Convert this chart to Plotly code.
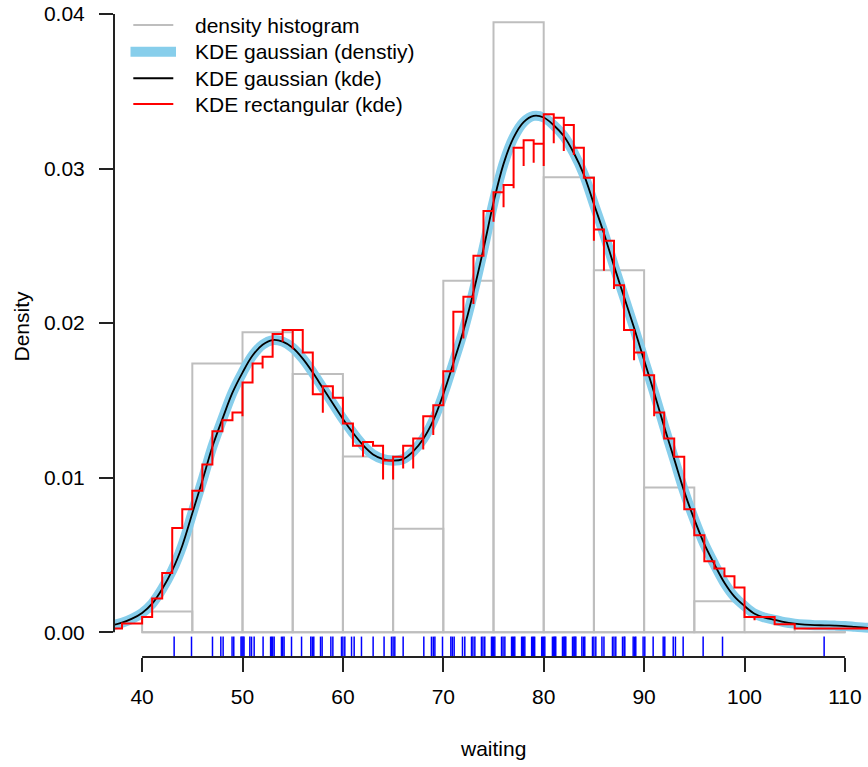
import plotly.graph_objects as go

# ---------------- data ----------------
hist_breaks = [40, 45, 50, 55, 60, 65, 70, 75, 80, 85, 90, 95, 100, 105, 110]
hist_density = [0.00134, 0.01739, 0.01940, 0.01670, 0.01137, 0.00669, 0.02274,
                0.03946, 0.02943, 0.02341, 0.00936, 0.00201, 0.0, 0.00067]

gauss_x = list(range(36, 114))
gauss_y = [0.00032, 0.00045, 0.00062, 0.00088, 0.00125, 0.00185, 0.00280, 0.00400,
           0.00560, 0.00770, 0.00980, 0.01200, 0.01380, 0.01550, 0.01680, 0.01790,
           0.01860, 0.01890, 0.01880, 0.01840, 0.01770, 0.01680, 0.01580, 0.01480,
           0.01380, 0.01290, 0.01210, 0.01150, 0.01120, 0.01110, 0.01120, 0.01170,
           0.01250, 0.01370, 0.01540, 0.01740, 0.01950, 0.02200, 0.02480, 0.02780,
           0.03030, 0.03200, 0.03300, 0.03340, 0.03330, 0.03280, 0.03210, 0.03100,
           0.02960, 0.02770, 0.02580, 0.02370, 0.02170, 0.01970, 0.01760, 0.01550,
           0.01330, 0.01120, 0.00910, 0.00730, 0.00570, 0.00440, 0.00320, 0.00230,
           0.00170, 0.00120, 0.00095, 0.00080, 0.00065, 0.00056, 0.00050, 0.00046,
           0.00045, 0.00043, 0.00040, 0.00035, 0.00030, 0.00027]

rect_x = [37.2] + list(range(38, 114))
rect_y = [0.00024, 0.00056, 0.00056, 0.00099, 0.00218, 0.00384, 0.00675, 0.00796,
          0.00915, 0.01085, 0.01301, 0.01372, 0.01422, 0.01616, 0.01739, 0.01782,
          0.01929, 0.01955, 0.01955, 0.01810, 0.01540, 0.01592, 0.01517, 0.01350,
          0.01206, 0.01230, 0.01206, 0.01111, 0.01135, 0.01206, 0.01254, 0.01398,
          0.01469, 0.01689, 0.02073, 0.02170, 0.02436, 0.02725, 0.02846, 0.02893,
          0.03135, 0.03182, 0.03160, 0.03351, 0.03329, 0.03281, 0.03135, 0.02940,
          0.02606, 0.02533, 0.02244, 0.01955, 0.01810, 0.01663, 0.01422, 0.01254,
          0.01135, 0.00796, 0.00628, 0.00460, 0.00412, 0.00362, 0.00289, 0.00099,
          0.00099, 0.00099, 0.00052, 0.00052, 0.00024, 0.00024, 0.00024, 0.00024,
          0.00024, 0.00024, 0.00024, 0.00024, 0.00024]

# downward spikes of the rectangular kde at some step edges
dip_x = [50, 52, 54, 55, 58, 62, 64, 65, 66, 67, 68, 69, 72, 73, 75, 76, 77, 78,
         79, 80, 81, 82, 83, 85, 86, 87, 89, 91, 101]
dip_y = [0.01398, 0.01707, 0.01879, 0.01830, 0.01420, 0.01135, 0.00988, 0.00988,
         0.01060, 0.01060, 0.01183, 0.01276, 0.01900, 0.02123, 0.02656, 0.02749,
         0.02872, 0.03016, 0.03038, 0.03016, 0.03163, 0.03113, 0.03087, 0.02533,
         0.02339, 0.02220, 0.01760, 0.01398, 0.00078]

rug_x = [43.19, 44.92, 47.01, 47.84, 48.07, 48.96, 49.13, 49.85, 49.95, 50.05, 50.15,
         50.73, 50.9, 51.16, 52.05, 52.8, 52.9, 53.0, 53.15, 53.88, 54.0, 54.14,
         54.88, 55.88, 56.8, 56.95, 57.1, 57.77, 57.93, 58.8, 59.0, 59.86, 60.0,
         60.19, 60.86, 61.12, 61.85, 63.01, 64.1, 64.84, 65.0, 65.17, 66.0, 68.06,
         68.82, 69.0, 69.16, 69.92, 70.75, 70.9, 71.08, 71.91, 72.14, 72.81, 72.95,
         73.14, 73.8, 73.95, 74.13, 74.8, 74.9, 75.0, 75.13, 75.8, 75.95, 76.13,
         76.8, 76.9, 77.0, 77.12, 77.8, 77.9, 78.0, 78.12, 78.8, 78.9, 79.0, 79.1,
         79.8, 79.9, 80.0, 80.11, 80.87, 81.0, 81.1, 81.2, 81.87, 82.0, 82.1, 82.2,
         82.87, 83.0, 83.1, 83.2, 83.8, 83.95, 84.09, 84.86, 85.0, 85.19, 85.8,
         86.0, 86.85, 87.0, 87.18, 87.85, 88.0, 88.08, 88.91, 89.05, 89.17, 89.9,
         90.07, 90.9, 91.9, 92.06, 92.9, 93.12, 93.89, 95.88, 97.81, 107.93]

x_ticks = [40, 50, 60, 70, 80, 90, 100, 110]
y_ticks = [0.00, 0.01, 0.02, 0.03, 0.04]

legend_labels = ["density histogram", "KDE gaussian (denstiy)",
                 "KDE gaussian (kde)", "KDE rectangular (kde)"]

# ---------------- styling / layout constants ----------------
W, H = 868, 767
ML, MR, MT, MB = 114, 0, 0, 110
PW, PH = W - ML - MR, H - MT - MB
X_RANGE = [37.2, 112.3]
Y_RANGE = [-0.0016, 0.0409]
FONT = "Liberation Sans, Arial, Helvetica, sans-serif"
GRAY = "#BEBEBE"
SKY = "#87CEEB"
AXC = "#222222"
RUG_TOP = -0.00028


def pxx(px):
    return (px - ML) / PW


def pxy(py):
    return (MT + PH - py) / PH


fig = go.Figure()

# histogram (outlined, no fill)
centers = [(a + b) / 2 for a, b in zip(hist_breaks[:-1], hist_breaks[1:])]
widths = [b - a for a, b in zip(hist_breaks[:-1], hist_breaks[1:])]
fig.add_trace(go.Bar(x=centers, y=hist_density, width=widths,
                     marker=dict(color="rgba(0,0,0,0)", line=dict(color=GRAY, width=2)),
                     showlegend=False, hoverinfo="skip"))

# gaussian kde (density) thick sky blue
fig.add_trace(go.Scatter(x=gauss_x, y=gauss_y, mode="lines",
                         line=dict(color=SKY, width=10, shape="spline", smoothing=1.0),
                         showlegend=False, hoverinfo="skip"))
# gaussian kde (kde) thin black
fig.add_trace(go.Scatter(x=gauss_x, y=gauss_y, mode="lines",
                         line=dict(color="black", width=1.8, shape="spline", smoothing=1.0),
                         showlegend=False, hoverinfo="skip"))

# rectangular kde as a step line with spikes
rx, ry = [], []
dips = dict(zip(dip_x, dip_y))
for xv, yv in zip(rect_x, rect_y):
    if xv in dips:
        rx.append(xv)
        ry.append(dips[xv])
    rx.append(xv)
    ry.append(yv)
fig.add_trace(go.Scatter(x=rx, y=ry, mode="lines",
                         line=dict(color="red", width=2, shape="hv"),
                         showlegend=False, hoverinfo="skip"))

# rug
ux, uy = [], []
for v in rug_x:
    ux += [v, v, None]
    uy += [Y_RANGE[0], RUG_TOP, None]
fig.add_trace(go.Scatter(x=ux, y=uy, mode="lines",
                         line=dict(color="blue", width=1.5),
                         showlegend=False, hoverinfo="skip", cliponaxis=False))

shapes = []
# histogram baseline (covers zero-height bins)
shapes.append(dict(type="line", xref="x", yref="y", x0=hist_breaks[0], x1=hist_breaks[-1],
                   y0=0, y1=0, line=dict(color=GRAY, width=2), layer="below"))
# R-style axis lines spanning only the tick range
shapes.append(dict(type="line", xref="paper", yref="y", x0=0, x1=0,
                   y0=y_ticks[0], y1=y_ticks[-1], line=dict(color=AXC, width=2)))
shapes.append(dict(type="line", xref="x", yref="paper", x0=x_ticks[0], x1=x_ticks[-1],
                   y0=0, y1=0, line=dict(color=AXC, width=2)))

# legend (drawn manually to match R's legend placement)
leg_rows = [25, 51.7, 78.3, 104]
leg_styles = [(GRAY, 2, 133.3, 173.3), (SKY, 10, 130.5, 176),
              ("black", 2, 133.3, 173.3), ("red", 2, 133.3, 173.3)]
annotations = []
for row, (col, lw, a, b), lab in zip(leg_rows, leg_styles, legend_labels):
    shapes.append(dict(type="line", xref="paper", yref="paper",
                       x0=pxx(a), x1=pxx(b), y0=pxy(row), y1=pxy(row),
                       line=dict(color=col, width=lw)))
    annotations.append(dict(text=lab, xref="paper", yref="paper", x=pxx(193.3), y=pxy(row),
                            xanchor="left", yanchor="middle", showarrow=False,
                            font=dict(family=FONT, size=21, color="black")))

# axis titles
annotations.append(dict(text="waiting", xref="paper", yref="paper", x=pxx(493.3), y=pxy(748),
                        xanchor="center", yanchor="middle", showarrow=False,
                        font=dict(family=FONT, size=21, color="black")))
annotations.append(dict(text="Density", xref="paper", yref="paper", x=pxx(20.5), y=pxy(326),
                        xanchor="center", yanchor="middle", showarrow=False, textangle=-90,
                        font=dict(family=FONT, size=21, color="black")))

fig.update_layout(
    width=W, height=H,
    margin=dict(l=ML, r=MR, t=MT, b=MB, pad=0),
    paper_bgcolor="white", plot_bgcolor="white",
    font=dict(family=FONT, size=21, color="black"),
    showlegend=False,
    shapes=shapes, annotations=annotations,
    xaxis=dict(range=X_RANGE, showgrid=False, zeroline=False, showline=False,
               tickmode="array", tickvals=x_ticks, ticktext=[str(v) for v in x_ticks],
               ticks="outside", ticklen=14, tickwidth=2, tickcolor=AXC,
               ticklabelstandoff=7,
               tickfont=dict(family=FONT, size=21, color="black")),
    yaxis=dict(range=Y_RANGE, showgrid=False, zeroline=False, showline=False,
               tickmode="array", tickvals=y_ticks, ticktext=[f"{v:.2f}" for v in y_ticks],
               ticks="outside", ticklen=14, tickwidth=2, tickcolor=AXC,
               ticklabelstandoff=10,
               tickfont=dict(family=FONT, size=21, color="black")),
)

fig.write_html("out.html", config={"displayModeBar": False},
               post_script="document.body.style.margin='0px';")
